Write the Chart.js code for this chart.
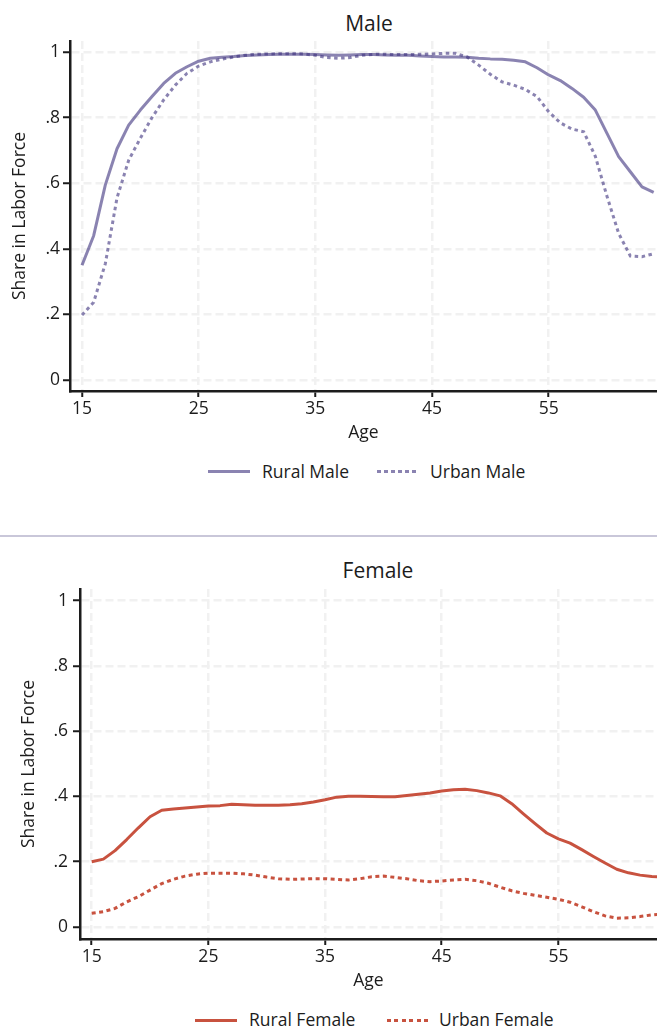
<!DOCTYPE html>
<html>
<head>
<meta charset="utf-8">
<script src="https://cdn.jsdelivr.net/npm/chart.js@4.4.1/dist/chart.umd.min.js"></script>
<style>
  html, body { margin: 0; padding: 0; background: #fff; overflow: hidden; }
  body { width: 657px; height: 1027px; position: relative; font-family: 'Open Sans', sans-serif; color: #1c1c1c; }
  canvas { position: absolute; left: 0; }
  .title { position: absolute; left: 0; text-align: center; font-size: 21px; line-height: 21px; white-space: nowrap; }
  .sep { position: absolute; left: 0; width: 657px; top: 535px; height: 2px; background: #c9c7d9; }
  .key { position: absolute; height: 3px; width: 42px; }
  .lab { position: absolute; font-size: 17.5px; line-height: 17.5px; white-space: nowrap; }
</style>
</head>
<body>
<div class="title" style="top:13px;width:738px;">Male</div>
<canvas id="male" width="657" height="445" style="top:0"></canvas>
<div id="maleLegend"></div>
<div class="sep"></div>
<div class="title" style="top:560px;width:756px;">Female</div>
<canvas id="female" width="657" height="448" style="top:545px"></canvas>
<div id="femaleLegend"></div>
<script>
// share of each age group in the labor force, ages 15-64
var ages = [15, 16, 17, 18, 19, 20, 21, 22, 23, 24, 25, 26, 27, 28, 29, 30, 31, 32, 33, 34,
            35, 36, 37, 38, 39, 40, 41, 42, 43, 44, 45, 46, 47, 48, 49, 50, 51, 52, 53, 54,
            55, 56, 57, 58, 59, 60, 61, 62, 63, 64];

var ruralMale = [0.35, 0.44, 0.595, 0.705, 0.777, 0.823, 0.864, 0.904, 0.935, 0.955,
                 0.972, 0.981, 0.984, 0.986, 0.989, 0.991, 0.992, 0.993, 0.993, 0.993,
                 0.992, 0.991, 0.99, 0.991, 0.992, 0.992, 0.991, 0.99, 0.99, 0.988,
                 0.986, 0.985, 0.985, 0.984, 0.981, 0.979, 0.978, 0.975, 0.97, 0.952,
                 0.93, 0.913, 0.889, 0.862, 0.823, 0.752, 0.681, 0.635, 0.589, 0.572];
var urbanMale = [0.198, 0.237, 0.355, 0.555, 0.67, 0.737, 0.8, 0.854, 0.899, 0.935,
                 0.957, 0.97, 0.978, 0.985, 0.99, 0.993, 0.994, 0.995, 0.995, 0.994,
                 0.99, 0.983, 0.981, 0.983, 0.99, 0.993, 0.993, 0.992, 0.992, 0.993,
                 0.994, 0.996, 0.996, 0.985, 0.96, 0.932, 0.909, 0.899, 0.886, 0.864,
                 0.818, 0.784, 0.765, 0.757, 0.682, 0.56, 0.447, 0.378, 0.376, 0.385];
var ruralFemale = [0.2, 0.208, 0.234, 0.268, 0.304, 0.338, 0.358, 0.362, 0.365, 0.368,
                   0.371, 0.372, 0.376, 0.375, 0.373, 0.373, 0.373, 0.375, 0.378, 0.383,
                   0.39, 0.398, 0.401, 0.401, 0.4, 0.399, 0.399, 0.403, 0.407, 0.411,
                   0.417, 0.421, 0.422, 0.418, 0.411, 0.402, 0.378, 0.347, 0.317, 0.288,
                   0.27, 0.257, 0.237, 0.216, 0.196, 0.177, 0.166, 0.159, 0.155, 0.152];
var urbanFemale = [0.042, 0.047, 0.057, 0.077, 0.093, 0.113, 0.133, 0.146, 0.156, 0.162,
                   0.165, 0.165, 0.165, 0.163, 0.159, 0.153, 0.148, 0.146, 0.147, 0.148,
                   0.148, 0.146, 0.144, 0.148, 0.154, 0.156, 0.152, 0.148, 0.142, 0.139,
                   0.141, 0.144, 0.146, 0.142, 0.134, 0.122, 0.111, 0.103, 0.097, 0.091,
                   0.085, 0.076, 0.062, 0.047, 0.034, 0.027, 0.028, 0.032, 0.037, 0.04];

var xTicks = [15, 25, 35, 45, 55];
var yTicks = [0, 0.2, 0.4, 0.6, 0.8, 1];

var maleColor = 'rgba(60, 48, 125, 0.6)';
var femaleColor = '#c8523f';
var gridColor = '#f1f1f1';
var font = { family: 'Open Sans', size: 17.5 };
var ink = '#1c1c1c';

function pts(vals) {
  return vals.map(function(v, i) { return { x: ages[i], y: v }; });
}

function yLabel(v) {
  if (v === 0) return '0';
  if (v === 1) return '1';
  return String(+v.toFixed(1)).replace(/^0/, '');
}

function buildChart(id, cfg) {
  var ctx = document.getElementById(id).getContext('2d');
  return new Chart(ctx, {
    type: 'line',
    data: {
      datasets: [{
        label: cfg.labels[0],
        data: pts(cfg.series[0]),
        borderColor: cfg.color,
        borderWidth: 3,
        borderJoinStyle: 'round',
        pointRadius: 0,
        tension: 0
      }, {
        label: cfg.labels[1],
        data: pts(cfg.series[1]),
        borderColor: cfg.color,
        borderWidth: 3,
        borderDash: cfg.dash,
        borderCapStyle: 'butt',
        pointRadius: 0,
        tension: 0
      }]
    },
    options: {
      responsive: false,
      animation: false,
      devicePixelRatio: 1,
      layout: { padding: { top: cfg.top, left: 0, right: 0, bottom: 0 } },
      plugins: { legend: { display: false }, tooltip: { enabled: false }, title: { display: false } },
      scales: {
        x: {
          type: 'linear',
          min: cfg.xMin,
          max: cfg.xMax,
          afterBuildTicks: function(s) { s.ticks = xTicks.map(function(v) { return { value: v }; }); },
          afterFit: function(s) { s.height = 54; },
          ticks: { font: font, color: ink, padding: 1.5, maxRotation: 0, autoSkip: false },
          grid: { color: gridColor, lineWidth: 2.5, tickLength: 6, tickWidth: 2, tickColor: ink },
          border: { display: true, color: ink, width: 2.5, dash: [8, 4] },
          title: { display: true, text: 'Age', font: font, color: ink, padding: { top: 0, bottom: cfg.xTitlePad } }
        },
        y: {
          min: cfg.yMin,
          max: cfg.yMax,
          afterBuildTicks: function(s) { s.ticks = yTicks.map(function(v) { return { value: v }; }); },
          afterFit: function(s) { s.width = cfg.left; },
          ticks: { font: font, color: ink, padding: cfg.yTickPad, callback: yLabel },
          grid: { color: gridColor, lineWidth: 2.5, tickLength: 7, tickWidth: 2, tickColor: ink },
          border: { display: true, color: ink, width: 2.5, dash: [8, 4] },
          title: { display: true, text: 'Share in Labor Force', font: font, color: ink, padding: { top: cfg.yTitlePad, bottom: 0 } }
        }
      }
    }
  });
}

// legend rows drawn under each panel
function legend(el, chart, pos) {
  var host = document.getElementById(el);
  chart.data.datasets.forEach(function(ds, i) {
    var p = pos[i];
    var key = document.createElement('div');
    key.className = 'key';
    key.style.left = p.key + 'px';
    key.style.top = (pos.lineY - 1.5) + 'px';
    if (ds.borderDash) {
      var d = ds.borderDash;
      key.style.background = 'repeating-linear-gradient(to right, ' + ds.borderColor + ' 0 ' + d[0] + 'px, transparent ' + d[0] + 'px ' + (d[0] + d[1]) + 'px)';
    } else {
      key.style.background = ds.borderColor;
    }
    var lab = document.createElement('div');
    lab.className = 'lab';
    lab.style.left = p.text + 'px';
    lab.style.top = pos.textY + 'px';
    lab.textContent = ds.label;
    host.appendChild(key);
    host.appendChild(lab);
  });
}

var male = buildChart('male', {
  labels: ['Rural Male', 'Urban Male'],
  series: [ruralMale, urbanMale],
  color: maleColor,
  dash: [3.5, 3.5],
  top: 41, left: 70,
  xMin: 13.971, xMax: 64.286,
  yMin: -0.0335, yMax: 1.0335,
  yTickPad: 3, yTitlePad: 9.5, xTitlePad: 1.5
});

var female = buildChart('female', {
  labels: ['Rural Female', 'Urban Female'],
  series: [ruralFemale, urbanFemale],
  color: femaleColor,
  dash: [4, 3.5],
  top: 44, left: 80,
  xMin: 13.997, xMax: 63.45,
  yMin: -0.0368, yMax: 1.036,
  yTickPad: 5, yTitlePad: 19, xTitlePad: 1
});

var malePos = [{ key: 208, text: 262 }, { key: 377, text: 430 }];
malePos.lineY = 471.7; malePos.textY = 462.8;
legend('maleLegend', male, malePos);

var femalePos = [{ key: 195, text: 249 }, { key: 387, text: 439 }];
femalePos.lineY = 1020; femalePos.textY = 1010.5;
legend('femaleLegend', female, femalePos);
</script>
</body>
</html>
